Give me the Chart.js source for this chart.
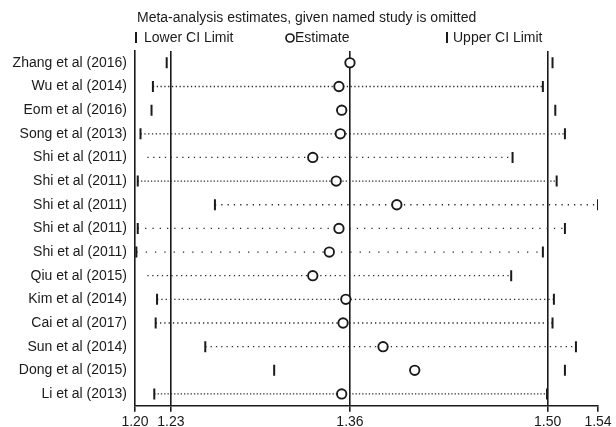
<!DOCTYPE html>
<html lang="en">
<head>
  <meta charset="UTF-8" />
  <title>Meta-analysis estimates, given named study is omitted</title>
  <script src="https://cdn.jsdelivr.net/npm/chart.js"></script>
  <style>
    html, body { margin: 0; padding: 0; background: #fff; }
    canvas { display: block; }
  </style>
</head>
<body>
  <canvas id="chart" width="616" height="427"></canvas>
  <script>
    // one row per omitted study, top to bottom
    const studies = [
      'Zhang et al (2016)', 'Wu et al (2014)', 'Eom et al (2016)', 'Song et al (2013)',
      'Shi et al (2011)', 'Shi et al (2011)', 'Shi et al (2011)', 'Shi et al (2011)',
      'Shi et al (2011)', 'Qiu et al (2015)', 'Kim et al (2014)', 'Cai et al (2017)',
      'Sun et al (2014)', 'Dong et al (2015)', 'Li et al (2013)'
    ];
    const lowerCI  = [1.226, 1.216, 1.215, 1.207, 1.212, 1.205, 1.261, 1.205, 1.204, 1.212, 1.219, 1.218, 1.254, 1.304, 1.217];
    const estimate = [1.359, 1.351, 1.353, 1.352, 1.332, 1.349, 1.393, 1.351, 1.344, 1.332, 1.356, 1.354, 1.383, 1.406, 1.353];
    const upperCI  = [1.506, 1.499, 1.508, 1.515, 1.477, 1.509, 1.539, 1.515, 1.499, 1.476, 1.507, 1.506, 1.523, 1.515, 1.502];

    // x axis: min lower, overall lower CI, overall estimate, overall upper CI, max upper
    const tickValues = [1.203, 1.229, 1.359, 1.5025, 1.539];
    const tickLabels = ['1.20', '1.23', '1.36', '1.50', '1.54'];

    // looks only
    const lowerTickSize = [5.5, 5.5, 5.5, 5.5, 0, 5.5, 5.5, 5.5, 5.5, 0, 5.5, 5.5, 5.5, 5.5, 5.5];
    const dashes = [null, [1.3, 2.5], null, [1.3, 2.5], [1.3, 4.5], [1.3, 2], [1.3, 5], [1.3, 6], [1.3, 8],
                    [1.3, 3.5], [1.3, 3], [1.3, 3], [1.3, 4], null, [1.3, 2]];

    const ink = '#1a1a1a';
    const font = '"Liberation Sans", Arial, sans-serif';

    const pts = arr => arr.map((v, i) => ({ x: v, y: i }));

    const dotted = studies.map((s, i) => ({
      data: [{ x: lowerCI[i], y: i }, { x: upperCI[i], y: i }],
      showLine: true,
      borderColor: dashes[i] ? '#2a2a2a' : 'transparent',
      borderWidth: 1.3,
      borderDash: dashes[i] || [],
      pointRadius: 0
    }));

    const header = {
      id: 'header',
      afterDraw(chart) {
        const c = chart.ctx;
        c.save();
        c.fillStyle = ink;
        c.strokeStyle = ink;
        c.font = '14px ' + font;
        c.textBaseline = 'middle';
        c.fillText('Meta-analysis estimates, given named study is omitted', 137, 18);

        c.lineWidth = 2;
        c.beginPath();
        c.moveTo(136, 32); c.lineTo(136, 43);
        c.moveTo(447, 32); c.lineTo(447, 43);
        c.stroke();
        c.lineWidth = 1.7;
        c.beginPath();
        c.arc(290, 38, 4, 0, Math.PI * 2);
        c.stroke();

        c.fillText('Lower CI Limit', 144, 38);
        c.fillText('Estimate', 295, 38);
        c.fillText('Upper CI Limit', 453, 38);
        c.restore();
      }
    };

    new Chart(document.getElementById('chart'), {
      type: 'scatter',
      data: {
        datasets: [
          {
            data: pts(estimate),
            pointStyle: 'circle',
            pointRadius: 4.7,
            borderWidth: 1.9,
            borderColor: ink,
            backgroundColor: '#fff'
          },
          {
            data: pts(lowerCI),
            pointStyle: 'line',
            rotation: 90,
            pointRadius: lowerTickSize,
            borderWidth: 2,
            borderColor: ink
          },
          {
            data: pts(upperCI),
            pointStyle: 'line',
            rotation: 90,
            pointRadius: 5.5,
            borderWidth: 2,
            borderColor: ink
          },
          ...dotted
        ]
      },
      options: {
        responsive: false,
        animation: false,
        devicePixelRatio: 1,
        events: [],
        layout: { padding: { top: 51, right: 18, left: 0, bottom: 0 } },
        plugins: { legend: { display: false }, tooltip: { enabled: false } },
        scales: {
          x: {
            type: 'linear',
            min: tickValues[0],
            max: tickValues[tickValues.length - 1],
            afterBuildTicks: s => { s.ticks = tickValues.map(v => ({ value: v })); },
            afterFit: s => { s.height = 21.2; },
            ticks: {
              callback: (v, i) => tickLabels[i],
              autoSkip: false,
              maxRotation: 0,
              padding: 2,
              color: ink,
              font: { family: font, size: 14 }
            },
            grid: {
              color: ctx => (ctx.index >= 1 && ctx.index <= 3) ? ink : 'transparent',
              lineWidth: 1.6,
              tickLength: 6,
              tickColor: ink,
              tickWidth: 1.6
            },
            border: { color: ink, width: 1.6 }
          },
          y: {
            type: 'linear',
            reverse: true,
            min: -0.5,
            max: 14.5,
            afterBuildTicks: s => { s.ticks = studies.map((_, i) => ({ value: i })); },
            afterFit: s => { s.width = 135; },
            ticks: {
              callback: v => studies[v],
              autoSkip: false,
              padding: 8,
              color: ink,
              font: { family: font, size: 14 }
            },
            grid: { display: false, drawTicks: false },
            border: { display: true, color: ink, width: 1.6 }
          }
        }
      },
      plugins: [header]
    });
  </script>
</body>
</html>
